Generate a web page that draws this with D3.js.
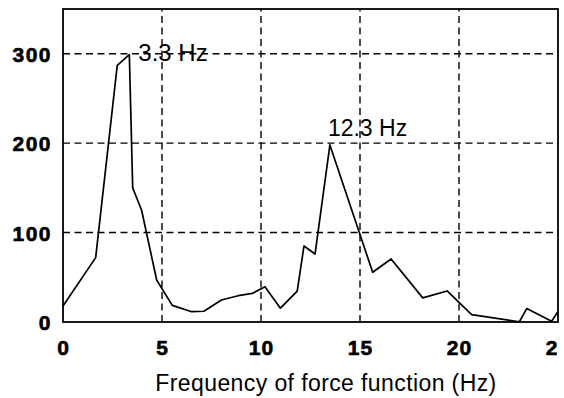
<!DOCTYPE html>
<html>
<head>
<meta charset="utf-8">
<script src="https://cdn.jsdelivr.net/npm/d3@7"></script>
<style>
  html, body { margin: 0; padding: 0; background: #fff; }
  svg { display: block; }
</style>
</head>
<body>
<script>
// ---- data ----
const freq = [0, 1.65, 2.74, 3.35, 3.52, 3.97, 4.73, 5.52, 6.5, 7.12, 8.0, 8.85, 9.56, 10.2, 10.98,
              11.83, 12.17, 12.73, 13.48, 15.64, 16.57, 18.17, 19.4, 20.64, 23.05, 23.42, 24.68, 25.0];
const amp  = [18, 72, 287, 299, 150, 125, 47, 18.6, 11.5, 12, 24.6, 29.4, 32, 39.5, 15.5,
              34.5, 85, 76, 198, 55.6, 70.5, 27, 34.7, 8.2, 0.3, 15, 0.8, 11.7];
const xTicks = [0, 5, 10, 15, 20, 25];
const yTicks = [0, 100, 200, 300];
const peaks = [
  { f: 3.35, a: 299, label: "3.3 Hz" },
  { f: 13.48, a: 198, label: "12.3 Hz" }
];
const xLabel = "Frequency of force function (Hz)";

const W = 564, H = 398;
const margin = { left: 63, right: 6, top: 9, bottom: 76 };

const svg = d3.select("body").append("svg").attr("width", W).attr("height", H);

const x = d3.scaleLinear().domain([0, 25]).range([margin.left, W - margin.right]);
const y = d3.scaleLinear().domain([0, 350]).range([H - margin.bottom, margin.top]);

const x0 = x.range()[0], x1 = x.range()[1], y0 = y.range()[0], y1 = y.range()[1];

// grid
const grid = svg.append("g").attr("stroke", "#000").attr("stroke-width", 1.4)
  .attr("stroke-dasharray", "7,4.5");
grid.selectAll("line.v").data(xTicks.filter(t => t > 0 && t < 25)).join("line")
  .attr("class", "v").attr("x1", d => x(d)).attr("x2", d => x(d)).attr("y1", y0).attr("y2", y1);
grid.selectAll("line.h").data(yTicks.filter(t => t > 0)).join("line")
  .attr("class", "h").attr("x1", x0).attr("x2", x1).attr("y1", d => y(d)).attr("y2", d => y(d));

// data line
const line = d3.line().x(d => x(d[0])).y(d => y(d[1]));
svg.append("path").datum(freq.map((f, i) => [f, amp[i]]))
  .attr("d", line).attr("fill", "none").attr("stroke", "#000").attr("stroke-width", 1.7)
  .attr("stroke-linejoin", "round");

// frame
svg.append("rect").attr("x", x0).attr("y", y1).attr("width", x1 - x0).attr("height", y0 - y1)
  .attr("fill", "none").attr("stroke", "#000").attr("stroke-width", 1.8);

// clip for x tick labels (reference is cut at right edge)
svg.append("clipPath").attr("id", "clipx").append("rect")
  .attr("x", 0).attr("y", 0).attr("width", x1 - 1).attr("height", H);

// x axis
const xAxis = d3.axisBottom(x).tickValues(xTicks).tickSize(0).tickPadding(0).tickFormat(d3.format("d"));
const gx = svg.append("g").attr("transform", `translate(0,${y0})`).attr("clip-path", "url(#clipx)").call(xAxis);
gx.select(".domain").remove();
gx.selectAll("text").attr("dy", null).attr("y", 33)
  .attr("font-family", "Liberation Sans, Arial, sans-serif").attr("font-weight", "bold")
  .attr("font-size", 21).attr("fill", "#000").attr("stroke", "#000").attr("stroke-width", 0.6)
  .style("letter-spacing", "1px");

// y axis
const yAxis = d3.axisLeft(y).tickValues(yTicks).tickSize(0).tickPadding(0).tickFormat(d3.format("d"));
const gy = svg.append("g").attr("transform", `translate(${x0},0)`).call(yAxis);
gy.select(".domain").remove();
gy.selectAll("text").attr("x", -11).attr("dy", "0.36em")
  .attr("font-family", "Liberation Sans, Arial, sans-serif").attr("font-weight", "bold")
  .attr("font-size", 21).attr("fill", "#000").attr("stroke", "#000").attr("stroke-width", 0.6)
  .style("letter-spacing", "1.5px");

// x label
svg.append("text").attr("x", 326).attr("y", 391).attr("text-anchor", "middle")
  .attr("font-family", "Liberation Sans, Arial, sans-serif").attr("font-size", 23)
  .attr("fill", "#000").style("letter-spacing", "0.4px").text(xLabel);

// peak annotations
svg.append("text").attr("x", x(peaks[0].f) + 9).attr("y", y(peaks[0].a) + 6)
  .attr("font-family", "Liberation Sans, Arial, sans-serif").attr("font-size", 24)
  .attr("fill", "#000").text(peaks[0].label);
svg.append("text").attr("x", x(peaks[1].f) - 2).attr("y", y(peaks[1].a) - 9)
  .attr("font-family", "Liberation Sans, Arial, sans-serif").attr("font-size", 23)
  .attr("fill", "#000").text(peaks[1].label);
</script>
</body>
</html>
